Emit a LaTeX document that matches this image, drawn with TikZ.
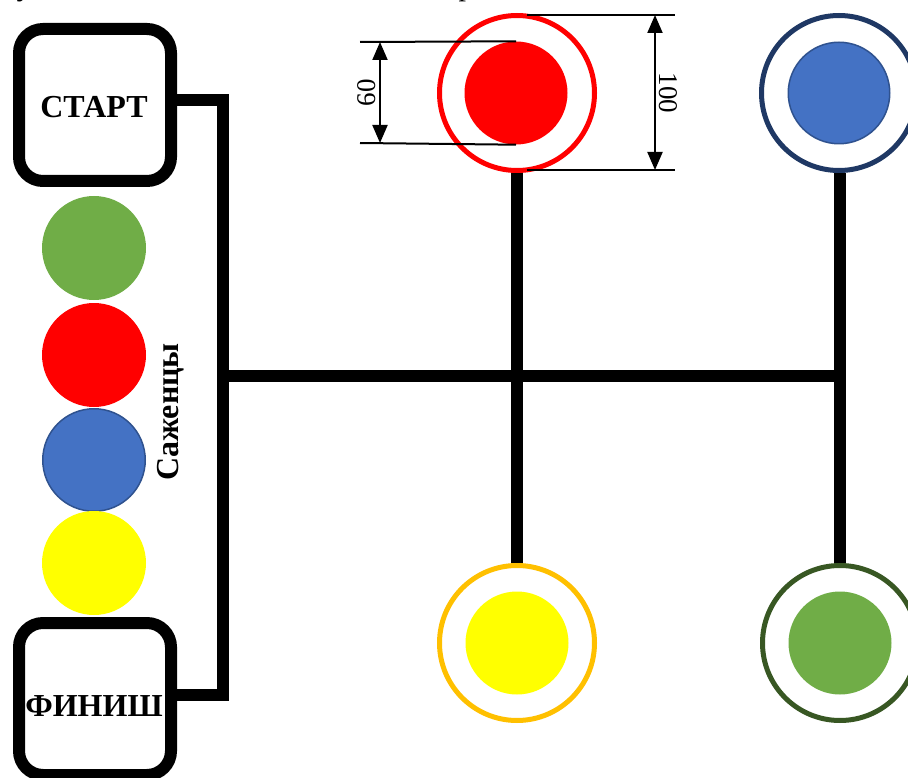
\documentclass[tikz,border=0pt]{standalone}
\usepackage{fontspec}
\setmainfont{Liberation Serif}
\usetikzlibrary{arrows.meta}
\definecolor{cgreen}{HTML}{70AD47}
\definecolor{cgreenring}{HTML}{385723}
\definecolor{cblue}{HTML}{4472C4}
\definecolor{cblueedge}{HTML}{2F528F}
\definecolor{cbluering}{HTML}{1F3864}
\definecolor{cyellow}{HTML}{FFFF00}
\definecolor{cyellowring}{HTML}{FFC000}
\definecolor{cred}{HTML}{FF0000}
\begin{document}
\begin{tikzpicture}[x=1pt,y=-1pt,
  box/.style={draw=black, line width=12pt, rounded corners=24pt, minimum width=152pt, minimum height=152pt, inner sep=0pt, fill=white},
  boxtext/.style={font=\fontsize{32}{32}\selectfont\bfseries, inner sep=0pt},
  ring/.style={circle, draw=#1, line width=5pt, minimum size=155pt, inner sep=0pt},
  dot/.style={circle, fill=#1, minimum size=103pt, inner sep=0pt},
  seed/.style={circle, fill=#1, minimum size=104pt, inner sep=0pt},
  conn/.style={line width=12pt, line join=miter, line cap=butt},
  ext/.style={line width=2pt},
  dim/.style={line width=2pt, {Triangle[width=15pt,length=18pt]}-{Triangle[width=15pt,length=18pt]}},
  dimtext/.style={font=\fontsize{27}{27}\selectfont, inner sep=0pt}
]
\useasboundingbox (0,0) rectangle (908,778);

% clipped fragments of text above the picture
\node[anchor=base, font=\fontsize{30}{30}\selectfont\bfseries, inner sep=0pt] (fragA) at (24,-4) {у};
\node[anchor=base, font=\fontsize{30}{30}\selectfont, inner sep=0pt] (fragB) at (466,-4) {р};

% start / finish boxes
\node[box] (start) at (95,105) {};
\node[boxtext] (starttext) at (94,107) {СТАРТ};
\node[box] (finish) at (95,699) {};
\node[boxtext] (finishtext) at (94,706) {ФИНИШ};

% seedlings
\node[seed=cgreen] (s1) at (94,248) {};
\node[seed=cred] (s2) at (94,355) {};
\node[seed=cblue, draw=cblueedge, line width=1.5pt, minimum size=102.5pt] (s3) at (94,460) {};
\node[seed=cyellow] (s4) at (94,563) {};
\node[rotate=90, font=\fontsize{32}{32}\selectfont\bfseries, inner sep=0pt] (label) at (171,412) {Саженцы};

% target rings
\node[ring=cred] (rR) at (517,93) {};
\node[dot=cred] (dR) at (516,93) {};
\node[ring=cbluering] (rB) at (839,93) {};
\node[dot=cblue, draw=cblueedge, line width=1.5pt, minimum size=101.5pt] (dB) at (839,93) {};
\node[ring=cyellowring] (rY) at (517,643) {};
\node[dot=cyellow] (dY) at (517,643) {};
\node[ring=cgreenring] (rG) at (840,643) {};
\node[dot=cgreen] (dG) at (840,643) {};

% connectors
\coordinate (jT) at (223,100);
\coordinate (jB) at (223,695);
\coordinate (jL) at (223,376);
\coordinate (jR) at (840,376);
\draw[conn] (start.east |- jT) -- (jT) -- (jB) -- (finish.east |- jB);
\draw[conn] (jL) -- (jR);
\draw[conn] (rR.south) -- (rY.north);
\draw[conn] (rB.south -| jR) -- (rG.north -| jR);

% dimension 60
\coordinate (e60a) at (360,42);
\coordinate (e60b) at (360,143);
\coordinate (a60a) at (380,42);
\coordinate (a60b) at (380,143);
\draw[ext] (dR.north) -- (e60a);
\draw[ext] (dR.south) -- (e60b);
\draw[dim] (a60a) -- (a60b);
\node[dimtext, rotate=90] (t60) at (367,93) {60};

% dimension 100
\coordinate (e100s1) at (527,15);
\coordinate (e100e1) at (675,15);
\coordinate (e100s2) at (527,170);
\coordinate (e100e2) at (675,170);
\coordinate (a100a) at (655,15);
\coordinate (a100b) at (655,170);
\draw[ext] (e100s1) -- (e100e1);
\draw[ext] (e100s2) -- (e100e2);
\draw[dim] (a100a) -- (a100b);
\node[dimtext, rotate=-90] (t100) at (668,93) {100};
\end{tikzpicture}
\end{document}
